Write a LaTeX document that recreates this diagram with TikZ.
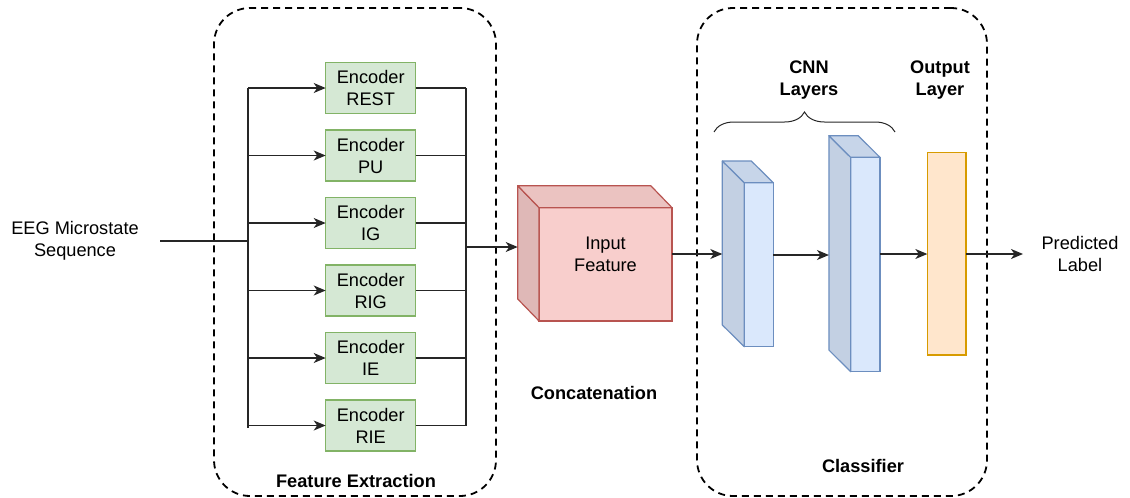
\documentclass[tikz,border=0pt]{standalone}
\usepackage{fontspec}
\setmainfont{Liberation Sans}
\usetikzlibrary{arrows.meta,calc,decorations.pathreplacing}
\definecolor{encfill}{HTML}{D5E8D4}
\definecolor{encdraw}{HTML}{82B366}
\definecolor{cubefill}{HTML}{F8CECC}
\definecolor{cubetop}{HTML}{EBC3C1}
\definecolor{cubeside}{HTML}{DFB8B7}
\definecolor{cubedraw}{HTML}{B85450}
\definecolor{cnnfill}{HTML}{DAE8FC}
\definecolor{cnntop}{HTML}{C7D5E9}
\definecolor{cnnside}{HTML}{C3D0E3}
\definecolor{cnndraw}{HTML}{6C8EBF}
\definecolor{outfill}{HTML}{FFE6CC}
\definecolor{outdraw}{HTML}{D79B00}
\tikzset{
  txt/.style={font=\fontsize{18.2}{22}\selectfont, align=center, inner sep=0pt},
  btxt/.style={font=\fontsize{18.2}{22}\selectfont\bfseries, align=center, inner sep=0pt},
  encbox/.style={draw=encdraw, fill=encfill, line width=1.2pt, minimum width=90pt, minimum height=51pt, inner sep=0pt, outer sep=0pt, txt},
  container/.style={draw=black, line width=1.8pt, dash pattern=on 7pt off 5pt, rounded corners=36pt, inner sep=0pt, outer sep=0pt},
  wire/.style={draw=black!85, line width=1.3pt},
  arr/.style={wire, -{Stealth[length=12pt,width=10pt,inset=3.5pt]}},
  cubeface/.style={draw=cubedraw, fill=cubefill, line width=1.2pt, inner sep=0pt, outer sep=0pt},
  cnnface/.style={draw=cnndraw, fill=cnnfill, line width=1.2pt, inner sep=0pt, outer sep=0pt},
}
\begin{document}
\begin{tikzpicture}[x=1pt,y=-1pt]
\useasboundingbox (0,0) rectangle (1130,498);

% containers
\node[container, minimum width=282pt, minimum height=488pt] (fe) at (355,252) {};
\node[container, minimum width=290pt, minimum height=488pt] (cl) at (842,252) {};

% input text
\node[txt] (eeg) at (75,241) {EEG Microstate\\Sequence};
\coordinate (inStart) at (160,241);

% encoders
\node[encbox] (e1) at (370.7,88)    {Encoder\\REST};
\node[encbox] (e2) at (370.7,155.5) {Encoder\\PU};
\node[encbox] (e3) at (370.7,223)   {Encoder\\IG};
\node[encbox] (e4) at (370.7,290.5) {Encoder\\RIG};
\node[encbox] (e5) at (370.7,358)   {Encoder\\IE};
\node[encbox] (e6) at (370.7,425.5) {Encoder\\RIE};

% buses
\coordinate (bLtop) at (248,88);
\coordinate (bLbot) at (248,428);
\coordinate (bRtop) at (466,88);
\coordinate (bRbot) at (466,426);
\coordinate (bRout) at (466,247);
\draw[wire] (bLtop) -- (bLbot);
\draw[wire] (bRtop) -- (bRbot);
\draw[wire] (inStart) -- (inStart -| bLtop);
\foreach \i in {1,...,6}{
  \draw[arr] (e\i.west -| bLtop) -- (e\i.west);
  \draw[wire] (e\i.east) -- (e\i.east -| bRtop);
}

% cube (input feature)
\node[cubeface, minimum width=133pt, minimum height=113.3pt] (cube) at (605.5,264.3) {};
\fill[cubeside, draw=cubedraw, line width=1.2pt, line join=round]
  (cube.north west) -- ++(-21.3,-22) -- ($(cube.south west)+(-21.3,-22)$) -- (cube.south west) -- cycle;
\fill[cubetop, draw=cubedraw, line width=1.2pt, line join=round]
  (cube.north west) -- ++(-21.3,-22) -- ($(cube.north east)+(-21.3,-22)$) -- (cube.north east) -- cycle;
\coordinate (cubeL) at ($(cube.north west)+(-21.3,-22)$);
\node[txt] (cubetxt) at (605.5,254) {Input\\Feature};
\draw[arr] (bRout) -- (bRout -| cubeL);

% CNN layer 1
\node[cnnface, minimum width=29pt, minimum height=164pt] (c1) at (758.8,264.7) {};
\fill[cnnside, draw=cnndraw, line width=1.2pt, line join=round]
  (c1.north west) -- ++(-22,-21.7) -- ($(c1.south west)+(-22,-21.7)$) -- (c1.south west) -- cycle;
\fill[cnntop, draw=cnndraw, line width=1.2pt, line join=round]
  (c1.north west) -- ++(-22,-21.7) -- ($(c1.north east)+(-22,-21.7)$) -- (c1.north east) -- cycle;
\coordinate (c1L) at ($(c1.north west)+(-22,-21.7)$);

% CNN layer 2
\node[cnnface, minimum width=29.3pt, minimum height=214.4pt] (c2) at (865.3,264.5) {};
\fill[cnnside, draw=cnndraw, line width=1.2pt, line join=round]
  (c2.north west) -- ++(-21.7,-21.6) -- ($(c2.south west)+(-21.7,-21.6)$) -- (c2.south west) -- cycle;
\fill[cnntop, draw=cnndraw, line width=1.2pt, line join=round]
  (c2.north west) -- ++(-21.7,-21.6) -- ($(c2.north east)+(-21.7,-21.6)$) -- (c2.north east) -- cycle;
\coordinate (c2L) at ($(c2.north west)+(-21.7,-21.6)$);

% output layer
\node[draw=outdraw, fill=outfill, line width=1.2pt, minimum width=38.7pt, minimum height=202.7pt, inner sep=0pt, outer sep=0pt] (ol) at (946.7,253.7) {};

% arrows through classifier
\coordinate (row) at (0,254);
\coordinate (row2) at (0,255);
\draw[arr] (cube.east |- row) -- (c1L |- row);
\draw[arr] (c1.east |- row2) -- (c2L |- row2);
\draw[arr] (c2.east |- row) -- (ol.west |- row);
\coordinate (predEnd) at (1023,254);
\draw[arr] (ol.east |- row) -- (predEnd);
\node[txt] (pred) at (1080,254) {Predicted\\Label};

% brace and labels
\coordinate (brL) at (714,132);
\coordinate (brR) at (895,132);
\draw[black!85, line width=1pt, decorate, decoration={brace, amplitude=20pt}] (brL) -- (brR);
\node[btxt] (cnnlbl) at (809,80) {CNN\\Layers};
\node[btxt] (outlbl) at (940,80) {Output\\Layer};
\node[btxt] (concat) at (594,393) {Concatenation};
\node[btxt] (felbl) at (356,481) {Feature Extraction};
\node[btxt] (cllbl) at (863,466) {Classifier};
\end{tikzpicture}
\end{document}
